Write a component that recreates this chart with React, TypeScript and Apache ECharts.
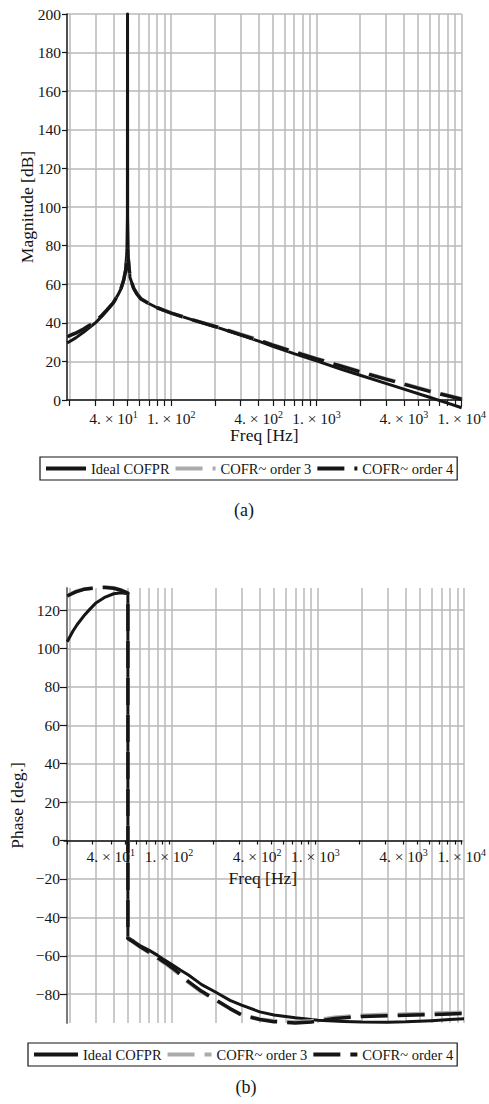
import React, { useEffect, useRef } from 'react';
import * as echarts from 'echarts';

// ---------- data ----------
const seriesNames = ['Ideal COFPR', 'COFR~ order 3', 'COFR~ order 4'];

// Magnitude [dB]
const magFreqIdeal = [19.2, 20, 22, 25, 28, 30, 33, 36, 40, 43, 45, 47, 48.5, 49.5, 49.9, 50, 50.1, 50.6, 52, 55, 58, 62, 70, 80, 90, 100, 140, 200, 300, 400, 500, 700, 1000, 1500, 2000, 3000, 4000, 6000, 8000, 10000];
const magIdeal = [29.6, 30.3, 32.2, 35.2, 38.2, 40.0, 43.0, 46.3, 50.5, 54.5, 57.5, 62, 67.5, 77, 95, 200, 95, 75, 63.5, 58, 55, 52.3, 50, 47.8, 46.3, 45, 41.5, 38, 33.7, 30.5, 27.8, 24, 20.3, 15.8, 12.8, 8.6, 5.6, 1.4, -1.6, -4];
const magFreqApprox = [19.2, 20, 22, 25, 28, 30, 33, 36, 40, 43, 45, 47, 48.5, 49.5, 50, 50.5, 52, 55, 58, 62, 70, 80, 90, 100, 140, 200, 300, 400, 500, 700, 1000, 1500, 2000, 3000, 4000, 6000, 8000, 10000];
const magOrder3 = [33.1, 33.6, 34.8, 37.0, 39.3, 40.9, 43.6, 46.6, 50.6, 54.6, 57.6, 62, 67, 73, 78, 73, 63.5, 58.1, 55.1, 52.4, 50.1, 47.9, 46.4, 45.1, 41.6, 38.3, 34.2, 31.2, 28.7, 25.2, 21.6, 17.7, 14.9, 11.1, 8.5, 4.8, 2.5, 0.7];
const magOrder4 = [32.8, 33.3, 34.6, 36.8, 39.2, 40.8, 43.5, 46.5, 50.5, 54.5, 57.5, 62, 67, 73, 78, 73, 63.5, 58, 55, 52.3, 50, 47.8, 46.3, 45, 41.5, 38.1, 33.9, 30.9, 28.4, 24.9, 21.3, 17.4, 14.6, 10.8, 8.2, 4.5, 2.2, 0.4];

// Phase [deg.]
const phaseFreqIdeal = [19.2, 20, 21, 22.5, 25, 27.5, 30, 35, 40, 45, 50, 50, 55, 60, 70, 80, 90, 100, 115, 130, 160, 200, 250, 300, 400, 500, 700, 1000, 1500, 2000, 3000, 4000, 6000, 8000, 10000];
const phaseIdeal = [103.5, 106, 109, 112.5, 117, 120.5, 123.5, 126.8, 128.5, 129, 128.5, -50.5, -52.5, -54.5, -57.2, -59.8, -62.4, -64.5, -67.5, -70, -75, -79, -83.2, -85.7, -89.2, -90.8, -92.3, -93.6, -94.2, -94.5, -94.6, -94.4, -93.8, -93.2, -92.8];
const phaseFreqApprox = [19.2, 20, 22, 25, 30, 35, 40, 45, 50, 50, 55, 60, 68, 80, 95, 110, 130, 160, 200, 250, 300, 400, 500, 700, 900, 1000, 1300, 2000, 3000, 4000, 6000, 8000, 10000];
const phaseOrder3 = [127.6, 128.3, 129.8, 131, 131.7, 132, 131.6, 130.5, 129, -51, -53.2, -55.3, -57.9, -61.5, -65.4, -69.1, -74, -79, -83.3, -87.6, -90.7, -92.9, -93.8, -94.4, -93.8, -93.3, -92, -90.9, -90.5, -90.3, -89.9, -89.6, -89.3];
const phaseOrder4 = [127.3, 128, 129.5, 130.8, 131.5, 131.8, 131.4, 130.3, 128.8, -51, -53, -55, -57.5, -61, -64.8, -68.5, -73.5, -78.5, -83, -87.5, -90.8, -93.2, -94.3, -95, -94.5, -94, -92.6, -91.6, -91.2, -91, -90.6, -90.3, -90];

// Axes
const freqMin = 19.15;
const freqMax = 10000;
const gridFreqs = [20, 30, 40, 50, 60, 70, 80, 90, 100, 200, 300, 400, 500, 600, 700, 800, 900, 1000, 2000, 3000, 4000, 5000, 6000, 7000, 8000, 9000, 10000];
const labelFreqs = [40, 100, 400, 1000, 4000, 10000];
const magTicks = [0, 20, 40, 60, 80, 100, 120, 140, 160, 180, 200];
const phaseTicks = [-80, -60, -40, -20, 0, 20, 40, 60, 80, 100, 120];
const phaseMin = -95;
const phaseMax = 131.5;

// ---------- styling ----------
const FONT = "'Liberation Serif', 'Times New Roman', 'DejaVu Serif', serif";
const INK = '#151515';
const GRID = '#b9b9b9';
const GRAY = '#ababab';
const NAME_SIZE = 17.5;
const TICK_SIZE = 15.5;

const toPts = (freqs: number[], vals: number[]) => freqs.map((f, i) => [Math.log10(f), vals[i]]);

const fmtX = (v: number) => {
  const e = Math.floor(v + 1e-6);
  const m = Math.round(Math.pow(10, v - e));
  return `${m}. × 10{sup|${e}}`;
};
const fmtY = (v: number) => (v < 0 ? '\u2212' + Math.abs(v) : String(v));

const xRange = { min: Math.log10(freqMin), max: Math.log10(freqMax) };

// Visible frequency axis: line, ticks, labels and name
function xAxisFull(gridIndex: number, tickLen: number, margin: number, nameGap: number, withSplit: boolean) {
  return {
    type: 'value',
    gridIndex,
    ...xRange,
    name: 'Freq [Hz]',
    nameLocation: 'middle',
    nameGap,
    nameMoveOverlap: false,
    nameTextStyle: { fontFamily: FONT, fontSize: NAME_SIZE, color: INK },
    axisLine: { show: true, onZero: false, lineStyle: { color: INK, width: 1.5 } },
    axisTick: {
      show: true,
      inside: false,
      length: tickLen,
      customValues: gridFreqs.map((f) => Math.log10(f)),
      lineStyle: { color: INK, width: 1.2 },
    },
    axisLabel: {
      show: true,
      customValues: labelFreqs.map((f) => Math.log10(f)),
      formatter: fmtX,
      margin,
      fontFamily: FONT,
      fontSize: TICK_SIZE,
      color: INK,
      lineHeight: 18,
      rich: {
        sup: { fontFamily: FONT, fontSize: 10, color: INK, verticalAlign: 'top', lineHeight: 10 },
      },
    },
    splitLine: { show: withSplit, lineStyle: { color: GRID, width: 1.5 } },
  };
}

// Frequency axis that only draws the vertical grid lines
function xAxisGridOnly(gridIndex: number) {
  return {
    type: 'value',
    gridIndex,
    ...xRange,
    axisLine: { show: false },
    axisTick: { show: false, customValues: gridFreqs.map((f) => Math.log10(f)) },
    axisLabel: { show: false },
    splitLine: { show: true, lineStyle: { color: GRID, width: 1.5 } },
  };
}

function lineSeries(name: string, idx: number, data: number[][], color: string, dashed: boolean, width: number) {
  return {
    type: 'line',
    name,
    xAxisIndex: idx,
    yAxisIndex: idx,
    data,
    symbol: 'none',
    showSymbol: false,
    clip: false,
    silent: true,
    lineStyle: { color, width, type: dashed ? [27, 10] : 'solid', cap: 'butt', join: 'round' },
    itemStyle: { color },
  };
}

function legend(left: number, top: number, itemWidth: number) {
  return {
    show: true,
    left,
    top,
    orient: 'horizontal',
    data: seriesNames,
    itemWidth,
    itemHeight: 14,
    itemGap: 4,
    padding: [4, 4],
    borderColor: INK,
    borderWidth: 1.2,
    backgroundColor: '#fff',
    selectedMode: false,
    textStyle: { fontFamily: FONT, fontSize: 14.5, color: INK },
    itemStyle: { opacity: 0 },
    lineStyle: { width: 4 },
  };
}

export default function App() {
  const ref = useRef<HTMLDivElement>(null);

  useEffect(() => {
    if (!ref.current) return;
    const chart = echarts.init(ref.current, null, { renderer: 'svg' });
    const phaseTop = 588;
    const phaseHeight = 435;
    const zeroOffset = (phaseHeight * phaseMax) / (phaseMax - phaseMin);
    const option = {
      animation: false,
      backgroundColor: '#fff',
      textStyle: { fontFamily: FONT },
      grid: [
        { left: 67, top: 14, width: 398, height: 386 },
        { left: 64, top: phaseTop, width: 400, height: phaseHeight },
        { left: 64, top: phaseTop, width: 400, height: zeroOffset },
      ],
      xAxis: [xAxisFull(0, 6, 9, 26, true), xAxisGridOnly(1), xAxisFull(2, 4, 7, 28, false)],
      yAxis: [
        {
          type: 'value',
          gridIndex: 0,
          min: 0,
          max: 200,
          interval: 20,
          name: 'Magnitude [dB]',
          nameLocation: 'middle',
          nameRotate: 90,
          nameGap: 31,
          nameMoveOverlap: false,
          nameTextStyle: { fontFamily: FONT, fontSize: NAME_SIZE, color: INK },
          axisLine: { show: true, onZero: false, lineStyle: { color: INK, width: 1.5 } },
          axisTick: { show: true, length: 5, customValues: magTicks, lineStyle: { color: INK, width: 1.2 } },
          axisLabel: { customValues: magTicks, margin: 6, fontFamily: FONT, fontSize: TICK_SIZE, color: INK, formatter: fmtY },
          splitLine: { show: true, lineStyle: { color: GRID, width: 1.5 } },
        },
        {
          type: 'value',
          gridIndex: 1,
          min: phaseMin,
          max: phaseMax,
          name: 'Phase [deg.]',
          nameLocation: 'middle',
          nameRotate: 90,
          nameGap: 41,
          nameMoveOverlap: false,
          nameTextStyle: { fontFamily: FONT, fontSize: NAME_SIZE, color: INK },
          axisLine: { show: true, onZero: false, lineStyle: { color: '#7a7a7a', width: 2 } },
          axisTick: { show: true, length: 7, customValues: phaseTicks, lineStyle: { color: INK, width: 1.2 } },
          axisLabel: { customValues: phaseTicks, margin: 7, fontFamily: FONT, fontSize: TICK_SIZE, color: INK, formatter: fmtY },
          splitLine: { show: true, lineStyle: { color: GRID, width: 1.5 } },
        },
        { type: 'value', gridIndex: 2, min: 0, max: 1, show: false },
      ],
      legend: [legend(40, 457, 40), legend(28, 1043, 44)],
      series: [
        lineSeries(seriesNames[0], 0, toPts(magFreqIdeal, magIdeal), INK, false, 3),
        lineSeries(seriesNames[1], 0, toPts(magFreqApprox, magOrder3), GRAY, true, 3.5),
        lineSeries(seriesNames[2], 0, toPts(magFreqApprox, magOrder4), INK, true, 3.5),
        lineSeries(seriesNames[0], 1, toPts(phaseFreqIdeal, phaseIdeal), INK, false, 3),
        lineSeries(seriesNames[1], 1, toPts(phaseFreqApprox, phaseOrder3), GRAY, true, 3.5),
        lineSeries(seriesNames[2], 1, toPts(phaseFreqApprox, phaseOrder4), INK, true, 3.5),
      ],
      graphic: [
        { type: 'text', x: 244, y: 510, style: { text: '(a)', fontFamily: FONT, fontSize: 18, fill: INK, align: 'center', verticalAlign: 'middle' } },
        { type: 'text', x: 246, y: 1087, style: { text: '(b)', fontFamily: FONT, fontSize: 18, fill: INK, align: 'center', verticalAlign: 'middle' } },
      ],
    };
    chart.setOption(option as any);
    return () => chart.dispose();
  }, []);

  return (
    <div
      ref={ref}
      style={{ position: 'absolute', left: 0, top: 0, width: 489, height: 1104, background: '#fff' }}
    />
  );
}
